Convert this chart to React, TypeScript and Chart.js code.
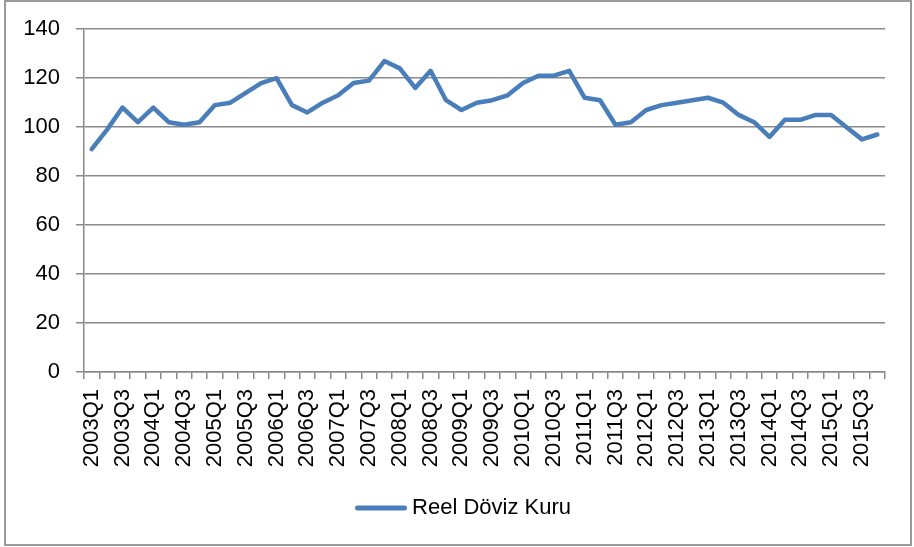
import { useEffect, useRef } from "react";
import { Chart, registerables } from "chart.js";

Chart.register(...registerables);

const categories = [
  "2003Q1", "2003Q2", "2003Q3", "2003Q4",
  "2004Q1", "2004Q2", "2004Q3", "2004Q4",
  "2005Q1", "2005Q2", "2005Q3", "2005Q4",
  "2006Q1", "2006Q2", "2006Q3", "2006Q4",
  "2007Q1", "2007Q2", "2007Q3", "2007Q4",
  "2008Q1", "2008Q2", "2008Q3", "2008Q4",
  "2009Q1", "2009Q2", "2009Q3", "2009Q4",
  "2010Q1", "2010Q2", "2010Q3", "2010Q4",
  "2011Q1", "2011Q2", "2011Q3", "2011Q4",
  "2012Q1", "2012Q2", "2012Q3", "2012Q4",
  "2013Q1", "2013Q2", "2013Q3", "2013Q4",
  "2014Q1", "2014Q2", "2014Q3", "2014Q4",
  "2015Q1", "2015Q2", "2015Q3", "2015Q4",
];

const reelDovizKuru = [
  91, 99, 108, 102,
  108, 102, 101, 102,
  109, 110, 114, 118,
  120, 109, 106, 110,
  113, 118, 119, 127,
  124, 116, 123, 111,
  107, 110, 111, 113,
  118, 121, 121, 123,
  112, 111, 101, 102,
  107, 109, 110, 111,
  112, 110, 105, 102,
  96, 103, 103, 105,
  105, 100, 95, 97,
];

const seriesName = "Reel Döviz Kuru";
const yMin = 0;
const yMax = 140;
const yStep = 20;

const FONT = "'Liberation Sans', Arial, sans-serif";
const LINE_COLOR = "#4A7EBB";
const GRID = "#8a8a8a";

export default function App() {
  const ref = useRef<HTMLCanvasElement>(null);

  useEffect(() => {
    if (!ref.current) return;

    const legendPlugin = {
      id: "excelLegend",
      afterDraw(chart: any) {
        const ctx = chart.ctx as CanvasRenderingContext2D;
        ctx.save();
        ctx.font = `22px ${FONT}`;
        const tw = ctx.measureText(seriesName).width;
        const lineW = 52;
        const gap = 5;
        const total = lineW + gap + tw;
        const cx = 463;
        const x0 = cx - total / 2;
        const y = 508;
        ctx.strokeStyle = LINE_COLOR;
        ctx.lineWidth = 5;
        ctx.lineCap = "round";
        ctx.beginPath();
        ctx.moveTo(x0 + 2.5, y);
        ctx.lineTo(x0 + lineW - 2.5, y);
        ctx.stroke();
        ctx.fillStyle = "#000";
        ctx.textBaseline = "middle";
        ctx.textAlign = "left";
        ctx.fillText(seriesName, x0 + lineW + gap, y);
        ctx.restore();
      },
    };

    const chart = new Chart(ref.current, {
      type: "line",
      data: {
        labels: categories,
        datasets: [
          {
            label: seriesName,
            data: reelDovizKuru,
            borderColor: LINE_COLOR,
            backgroundColor: LINE_COLOR,
            borderWidth: 4.5,
            pointRadius: 0,
            pointHoverRadius: 0,
            tension: 0,
            borderJoinStyle: "round",
            borderCapStyle: "round",
          },
        ],
      },
      options: {
        responsive: false,
        animation: false,
        devicePixelRatio: 1,
        layout: { padding: { top: 29, right: 28, left: 0, bottom: 0 } },
        plugins: {
          legend: { display: false },
          tooltip: { enabled: false },
        },
        scales: {
          x: {
            type: "category",
            offset: true,
            grid: {
              offset: true,
              drawOnChartArea: false,
              drawTicks: true,
              tickLength: 7,
              color: GRID,
              lineWidth: 1.5,
            },
            border: { display: true, color: GRID, width: 1.5 },
            ticks: {
              autoSkip: false,
              maxRotation: 90,
              minRotation: 90,
              padding: 10,
              color: "#000",
              font: { family: FONT, size: 22 },
              callback: (_v: any, i: number) => (i % 2 === 0 ? categories[i] : ""),
            },
            afterFit: (scale: any) => {
              scale.height = 175;
            },
          },
          y: {
            min: yMin,
            max: yMax,
            grid: {
              color: GRID,
              lineWidth: 1.5,
              drawTicks: true,
              tickLength: 8,
            },
            border: { display: true, color: GRID, width: 1.5 },
            ticks: {
              stepSize: yStep,
              padding: 16,
              color: "#000",
              font: { family: FONT, size: 22 },
            },
            afterFit: (scale: any) => {
              scale.width = 84;
            },
          },
        },
      },
      plugins: [legendPlugin],
    });

    return () => chart.destroy();
  }, []);

  return (
    <div
      style={{
        position: "fixed",
        left: 0,
        top: 0,
        width: 914,
        height: 547,
        background: "#fff",
      }}
    >
      <div
        style={{
          position: "absolute",
          left: 4,
          top: 0,
          width: 904,
          height: 542,
          border: "2px solid #9a9a9a",
          pointerEvents: "none",
        }}
      />
      <canvas
        ref={ref}
        width={914}
        height={547}
        style={{ position: "absolute", left: 0, top: 0, width: 914, height: 547 }}
      />
    </div>
  );
}
